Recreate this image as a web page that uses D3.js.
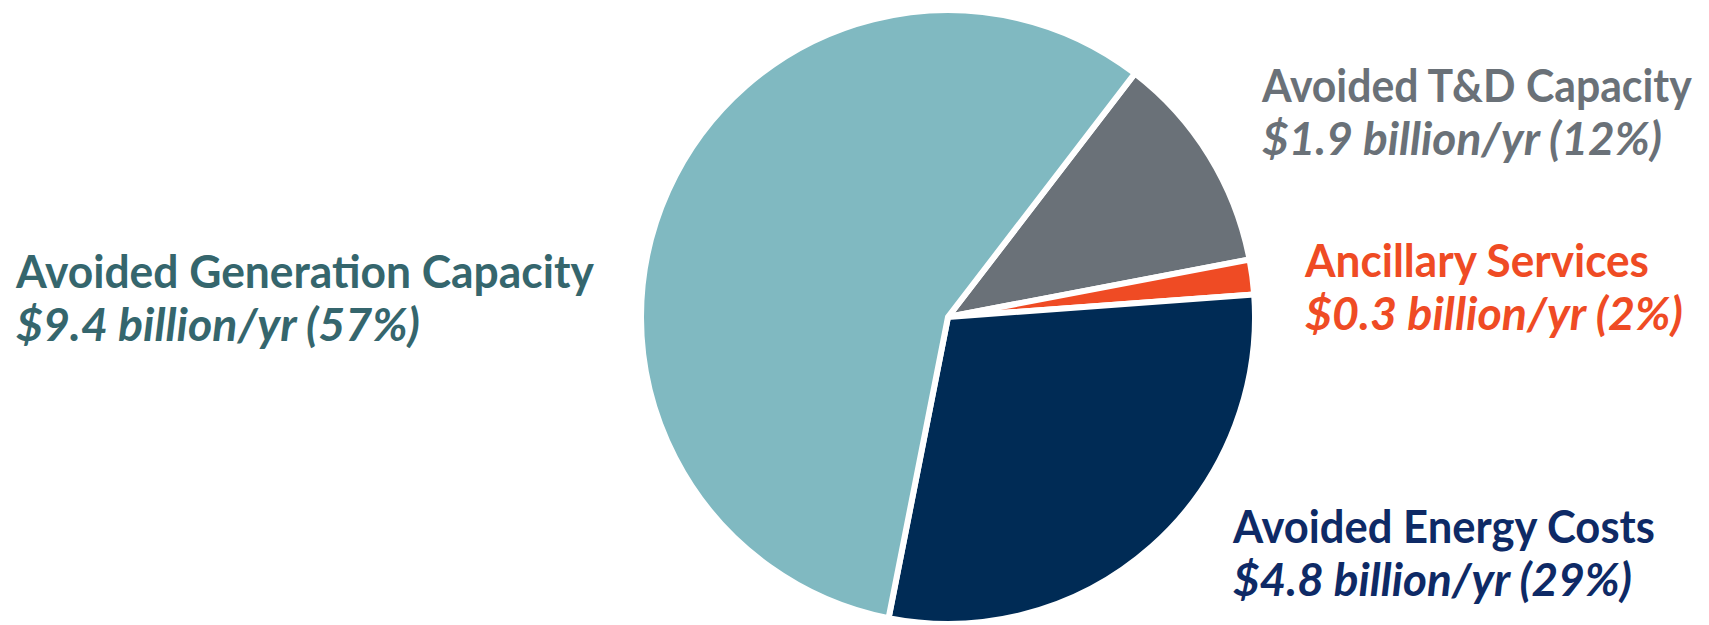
<!DOCTYPE html>
<html>
<head>
<meta charset="utf-8">
<script src="https://cdn.jsdelivr.net/npm/d3@7"></script>
<style>
  html, body { margin: 0; padding: 0; background: #ffffff; }
  svg { display: block; }
  text { font-family: Lato, "Open Sans", "Noto Sans", sans-serif; font-weight: 700; }
</style>
</head>
<body>
<svg id="chart" width="1709" height="625"></svg>
<script>
// Annual value streams (billion $/yr) and their shares
const categories = ["Avoided T&D Capacity", "Ancillary Services", "Avoided Energy Costs", "Avoided Generation Capacity"];
const values = [1.9, 0.3, 4.8, 9.4];
const shares = [12, 2, 29, 57];

// Slice and label colours per category
const fillColors = ["#6A7178", "#EF4B24", "#002B55", "#80B9C1"];
const textColors = ["#6A7178", "#EF4B24", "#0E2A66", "#35666D"];

// Label block placement: left x, first baseline, target widths of the two lines
const labelLayout = [
  { x: 1262, y: 102, w1: 430, w2: 400 },
  { x: 1305, y: 277, w1: 344, w2: 378 },
  { x: 1233, y: 543, w1: 422, w2: 399 },
  { x: 16,   y: 288, w1: 578, w2: 404 }
];

const svg = d3.select("#chart");
const cx = 948, cy = 317, radius = 307;
const startDeg = 37.5;

const pie = d3.pie()
  .sort(null)
  .value(d => d)
  .startAngle(startDeg * Math.PI / 180)
  .endAngle(startDeg * Math.PI / 180 + 2 * Math.PI);

const arc = d3.arc().innerRadius(0).outerRadius(radius);

const g = svg.append("g").attr("transform", `translate(${cx},${cy})`);

g.selectAll("path")
  .data(pie(values))
  .join("path")
  .attr("d", arc)
  .attr("fill", (d, i) => fillColors[i])
  .attr("stroke", "#ffffff")
  .attr("stroke-width", 6)
  .attr("stroke-linejoin", "miter");

const fmt = d3.format(".1f");
const labels = svg.selectAll("g.label")
  .data(categories)
  .join("g")
  .attr("class", "label")
  .attr("fill", (d, i) => textColors[i]);

// Squeeze each line horizontally to its target width (narrow headline face)
function fitLine(sel, widthKey, dy) {
  sel.each(function (d, i) {
    const L = labelLayout[i];
    const t = d3.select(this);
    const natural = this.getComputedTextLength();
    const k = natural > 0 ? L[widthKey] / natural : 1;
    t.attr("transform", `translate(${L.x},${L.y + dy}) scale(${k},1)`);
  });
}

labels.append("text")
  .attr("font-size", 45)
  .text(d => d)
  .call(fitLine, "w1", 0);

labels.append("text")
  .attr("font-size", 45)
  .attr("font-style", "italic")
  .text((d, i) => `$${fmt(values[i])} billion/yr (${shares[i]}%)`)
  .call(fitLine, "w2", 53);
</script>
</body>
</html>
